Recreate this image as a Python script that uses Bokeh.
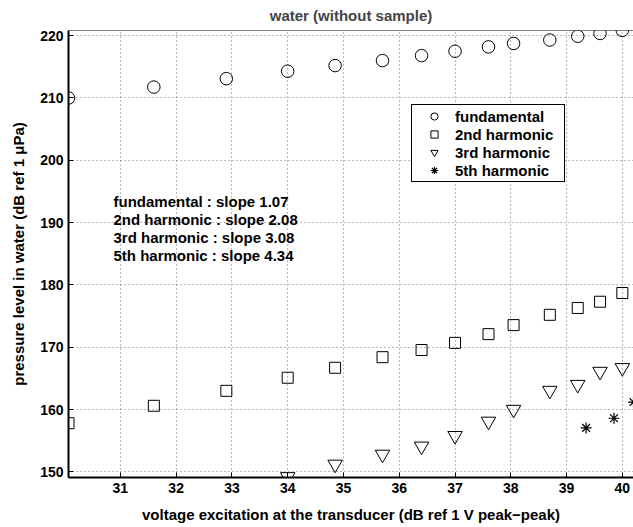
from bokeh.plotting import figure
from bokeh.models import Range1d, Legend, LegendItem, Label, FixedTicker, Span
from bokeh.embed import file_html
from bokeh.resources import INLINE

# ---- data ----
excitation = [30.07, 31.6, 32.9, 34.0, 34.85, 35.7, 36.4, 37.0, 37.6, 38.05, 38.7, 39.2, 39.6, 40.0]
fundamental = [210.0, 211.75, 213.1, 214.3, 215.2, 216.0, 216.8, 217.5, 218.2, 218.75, 219.3, 219.9, 220.35, 220.85]
harmonic2 = [157.8, 160.6, 163.0, 165.1, 166.7, 168.4, 169.55, 170.7, 172.1, 173.55, 175.2, 176.3, 177.3, 178.7]
excitation3 = [34.0, 34.85, 35.7, 36.4, 37.0, 37.6, 38.05, 38.7, 39.2, 39.6, 40.0]
harmonic3 = [149.2, 151.2, 152.8, 154.1, 155.8, 158.1, 160.0, 163.05, 164.0, 166.1, 166.7]
excitation5 = [39.35, 39.85, 40.2]
harmonic5 = [157.05, 158.6, 161.2]

title_text = "water (without sample)"
series_names = ["fundamental", "2nd harmonic", "3rd harmonic", "5th harmonic"]
slope_texts = ["fundamental : slope 1.07", "2nd harmonic : slope 2.08",
               "3rd harmonic : slope 3.08", "5th harmonic : slope 4.34"]
x_ticks = [31, 32, 33, 34, 35, 36, 37, 38, 39, 40]
y_ticks = [150, 160, 170, 180, 190, 200, 210, 220]
x_lim = (30.07, 40.2)
y_lim = (149.09, 220.83)

FONT = "Liberation Sans"

p = figure(width=633, height=527, output_backend="svg", toolbar_location=None,
           x_range=Range1d(*x_lim), y_range=Range1d(*y_lim),
           min_border_left=68, min_border_right=0, min_border_top=30, min_border_bottom=50,
           title=title_text)
p.outline_line_color = None
p.background_fill_color = "white"

p.title.align = "center"
p.title.vertical_align = "top"
p.title.text_font = FONT
p.title.text_font_size = "15px"
p.title.text_font_style = "bold"
p.title.standoff = 10

for ax in (p.xaxis[0], p.yaxis[0]):
    ax.major_tick_in = 5
    ax.major_tick_out = 0
    ax.minor_tick_line_color = None
    ax.axis_line_color = "black"
    ax.axis_line_width = 2
    ax.major_tick_line_color = "black"
    ax.major_label_text_font = FONT
    ax.major_label_text_font_style = "bold"
    ax.major_label_text_color = "black"
    ax.major_label_text_font_size = "14px"
    ax.major_label_standoff = 5
    ax.axis_label_text_font = FONT
    ax.axis_label_text_font_style = "bold"
    ax.axis_label_text_font_size = "15px"
    ax.axis_label_text_color = "black"

p.xaxis.ticker = FixedTicker(ticks=x_ticks)
p.yaxis.ticker = FixedTicker(ticks=y_ticks)
p.xaxis.axis_label = "voltage excitation at the transducer (dB ref 1 V peak\u2212peak)"
p.yaxis.axis_label = "pressure level in water (dB ref 1 \u03bcPa)"
p.xaxis.axis_label_standoff = 10
p.yaxis.axis_label_standoff = 10

# top border of the box
p.add_layout(Span(location=y_lim[1], dimension="width", line_color="black", line_width=1))

for g in (p.xgrid[0], p.ygrid[0]):
    g.grid_line_color = "black"
    g.grid_line_alpha = 0.55
    g.grid_line_dash = "1 3"
    g.grid_line_width = 1

r1 = p.scatter(excitation, fundamental, marker="circle", size=12.5,
               fill_color=None, line_color="black", line_width=1)
r2 = p.scatter(excitation, harmonic2, marker="square", size=11,
               fill_color=None, line_color="black", line_width=1)
r3 = p.scatter(excitation3, harmonic3, marker="inverted_triangle", size=14.5,
               fill_color=None, line_color="black", line_width=1)
r4 = p.scatter(excitation5, harmonic5, marker="asterisk", size=11,
               fill_color=None, line_color="black", line_width=1.2)

legend = Legend(items=[LegendItem(label=n, renderers=[r]) for n, r in zip(series_names, [r1, r2, r3, r4])],
                location=(343, 295), glyph_width=40, glyph_height=18, label_height=18, spacing=0,
                padding=2, margin=0, label_standoff=1, label_width=107,
                border_line_color="black", border_line_width=1, border_line_alpha=1,
                background_fill_color="white", background_fill_alpha=1,
                label_text_font=FONT, label_text_font_style="bold", label_text_font_size="15px",
                label_text_color="black")
p.add_layout(legend)

for i, t in enumerate(slope_texts):
    p.add_layout(Label(x=45, y=276 - 18 * i, x_units="screen", y_units="screen", text=t,
                       text_font=FONT, text_font_style="bold", text_font_size="15px",
                       text_color="black", text_baseline="alphabetic"))

open("out.html", "w").write(file_html(p, INLINE))
